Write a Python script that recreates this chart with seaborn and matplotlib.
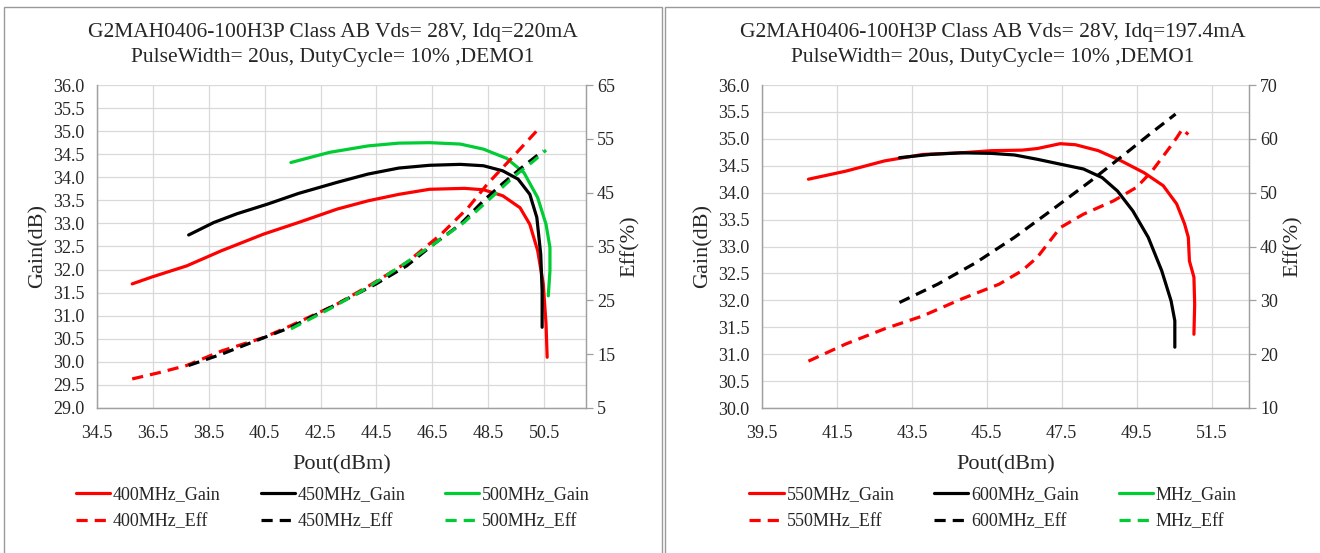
import numpy as np
import matplotlib.pyplot as plt
from matplotlib.patches import Rectangle
from matplotlib.lines import Line2D
import seaborn as sns
import pandas as pd

# dane - panel lewy (Idq=220mA)
p400_gain = [35.76, 36.47, 37.71, 38.96, 40.47, 41.71, 43.09, 44.2, 45.3, 46.4, 47.64, 48.33, 49.02, 49.64, 49.99, 50.27, 50.47, 50.57, 50.61]
g400 = [31.69, 31.84, 32.08, 32.41, 32.77, 33.02, 33.31, 33.49, 33.63, 33.74, 33.76, 33.73, 33.6, 33.34, 32.98, 32.41, 31.69, 30.82, 30.10]
p450_gain = [37.78, 38.68, 39.51, 40.61, 41.71, 43.09, 44.2, 45.3, 46.4, 47.5, 48.33, 49.02, 49.57, 49.99, 50.24, 50.38, 50.43, 50.43]
g450 = [32.75, 33.02, 33.21, 33.42, 33.65, 33.89, 34.07, 34.2, 34.26, 34.28, 34.25, 34.14, 33.96, 33.63, 33.13, 32.33, 31.54, 30.75]
p500_gain = [41.44, 42.82, 44.2, 45.3, 46.4, 47.5, 48.33, 49.16, 49.78, 50.27, 50.57, 50.71, 50.71, 50.65]
g500 = [34.32, 34.54, 34.68, 34.74, 34.75, 34.72, 34.61, 34.41, 34.1, 33.56, 32.98, 32.48, 31.97, 31.43]

p400_eff = [35.76, 36.75, 37.71, 38.96, 40.47, 41.44, 43.09, 44.33, 45.58, 46.82, 47.78, 48.47, 49.3, 49.85, 50.33]
e400 = [10.4, 11.6, 12.9, 15.6, 18.1, 20.3, 24.3, 28.0, 32.0, 37.3, 42.2, 46.6, 51.2, 54.3, 57.0]
p450_eff = [37.78, 38.96, 40.34, 41.44, 43.09, 44.47, 45.58, 46.54, 47.5, 48.33, 49.02, 49.71, 50.47]
e450 = [12.9, 15.0, 17.8, 20.0, 24.3, 28.0, 31.4, 35.4, 39.1, 43.5, 46.7, 49.7, 52.8]
p500_eff = [41.44, 42.82, 44.2, 45.3, 46.54, 47.64, 48.61, 49.44, 50.13, 50.57]
e500 = [19.7, 23.4, 27.4, 31.1, 35.4, 39.5, 44.1, 48.1, 50.9, 52.9]

# panel prawy (Idq=197.4mA)
p550_gain = [40.74, 41.74, 42.77, 43.79, 44.81, 45.62, 46.44, 46.85, 47.46, 47.87, 48.48, 49.09, 49.7, 50.21, 50.57, 50.78, 50.88, 50.91, 51.03, 51.05, 51.03]
g550 = [34.25, 34.40, 34.59, 34.71, 34.74, 34.78, 34.79, 34.82, 34.91, 34.89, 34.78, 34.59, 34.37, 34.13, 33.79, 33.42, 33.17, 32.73, 32.43, 31.93, 31.37]
p600_gain = [43.17, 43.99, 44.81, 45.62, 46.24, 46.85, 47.46, 48.08, 48.58, 48.99, 49.4, 49.81, 50.17, 50.42, 50.52, 50.52]
g600 = [34.65, 34.71, 34.74, 34.73, 34.70, 34.62, 34.53, 34.44, 34.28, 34.03, 33.66, 33.17, 32.55, 31.99, 31.62, 31.13]

p550_eff = [40.74, 41.74, 42.77, 43.79, 44.81, 45.83, 46.44, 46.85, 47.46, 48.08, 48.89, 49.5, 49.91, 50.32, 50.57, 50.72, 50.88]
e550 = [18.7, 21.9, 24.7, 27.1, 30.2, 33.0, 35.5, 38.0, 43.5, 46.0, 48.5, 51.0, 54.0, 57.8, 60.2, 61.8, 60.8]
p600_eff = [43.17, 44.19, 45.21, 46.24, 47.26, 48.28, 49.3, 49.91, 50.54]
e600 = [29.6, 33.0, 37.0, 41.7, 46.9, 52.2, 57.8, 61.2, 64.6]

left_labels = ['400MHz', '450MHz', '500MHz']
right_labels = ['550MHz', '600MHz', 'MHz']
left_title = 'G2MAH0406-100H3P Class AB Vds= 28V, Idq=220mA\nPulseWidth= 20us, DutyCycle= 10% ,DEMO1'
right_title = 'G2MAH0406-100H3P Class AB Vds= 28V, Idq=197.4mA\nPulseWidth= 20us, DutyCycle= 10% ,DEMO1'

kolory = ['#FF0000', '#000000', '#00CC33']
dash = (0, (3.5, 2.2))
LW = 2.3

sns.set_theme(style='white')
plt.rcParams['font.family'] = ['Liberation Serif', 'DejaVu Serif']

W, H = 1320, 553
fig = plt.figure(figsize=(W / 100, H / 100), dpi=100)

# ramki paneli
for x0, x1 in [(4, 662), (665, 1330)]:
    fig.patches.append(Rectangle((x0 / W, -0.05), (x1 - x0) / W, (H - 7) / H + 0.05,
                                 transform=fig.transFigure, fill=False,
                                 edgecolor='#999999', lw=1.0))


def rysuj(px_l, px_r, xlim, xt, ylim, yt, elim, et, gain, eff, labels, title, cx):
    ax = fig.add_axes([px_l / W, (H - 408) / H, (px_r - px_l) / W, (408 - 85) / H])
    ax2 = ax.twinx()
    for i, (p, g) in enumerate(gain):
        if len(p):
            df = pd.DataFrame({'Pout': p, 'Gain': g})
            sns.lineplot(data=df, x='Pout', y='Gain', ax=ax, sort=False, estimator=None,
                         color=kolory[i], lw=LW)
    for i, (p, e) in enumerate(eff):
        if len(p):
            df = pd.DataFrame({'Pout': p, 'Eff': e})
            sns.lineplot(data=df, x='Pout', y='Eff', ax=ax2, sort=False, estimator=None,
                         color=kolory[i], lw=LW, linestyle=dash)
    ax.set_xlim(*xlim)
    ax.set_xticks(xt)
    ax.set_xticklabels(['%.1f' % v for v in xt])
    ax.set_ylim(*ylim)
    ax.set_yticks(yt)
    ax.set_yticklabels(['%.1f' % v for v in yt])
    ax2.set_ylim(*elim)
    ax2.set_yticks(et)
    ax2.set_yticklabels([str(v) for v in et])
    ax.grid(True, color='#D9D9D9', lw=0.9)
    ax.tick_params(axis='y', length=0, labelsize=13, pad=9)
    ax.tick_params(axis='x', length=0, labelsize=13, pad=12)
    ax2.tick_params(axis='y', length=5, width=0.9, color='#A0A0A0', labelsize=13, pad=3)
    for a in (ax, ax2):
        a.spines['top'].set_visible(False)
        for s in ('left', 'bottom', 'right'):
            a.spines[s].set_color('#A0A0A0')
            a.spines[s].set_linewidth(0.9)
    ax.set_xlabel('Pout(dBm)', fontsize=16, labelpad=10)
    ax.set_ylabel('Gain(dB)', fontsize=16, labelpad=4)
    ax2.set_ylabel('Eff(%)', fontsize=16, labelpad=4)
    fig.text(cx / W, 1 - 45 / H, title, ha='center', va='center', fontsize=15.5,
             linespacing=1.4)
    handles = []
    for i, lab in enumerate(labels):
        handles.append(Line2D([], [], color=kolory[i], lw=LW, label=lab + '_Gain'))
        handles.append(Line2D([], [], color=kolory[i], lw=LW, linestyle=dash, label=lab + '_Eff'))
    fig.legend(handles=handles, ncol=3, loc='center', bbox_to_anchor=(cx / W, 1 - 508 / H),
               frameon=False, fontsize=13, handlelength=1.9, handletextpad=0.15,
               columnspacing=2.2, labelspacing=0.55)
    return ax, ax2


rysuj(97, 586, (34.5, 52.0), np.arange(34.5, 50.6, 2.0), (29.0, 36.0), np.arange(29.0, 36.01, 0.5),
      (5, 65), np.arange(5, 66, 10),
      [(p400_gain, g400), (p450_gain, g450), (p500_gain, g500)],
      [(p400_eff, e400), (p450_eff, e450), (p500_eff, e500)],
      left_labels, left_title, 333)

rysuj(762, 1249, (39.5, 52.5), np.arange(39.5, 51.6, 2.0), (30.0, 36.0), np.arange(30.0, 36.01, 0.5),
      (10, 70), np.arange(10, 71, 10),
      [(p550_gain, g550), (p600_gain, g600), ([], [])],
      [(p550_eff, e550), (p600_eff, e600), ([], [])],
      right_labels, right_title, 993)

plt.savefig('out.png', dpi=100)
plt.close()
